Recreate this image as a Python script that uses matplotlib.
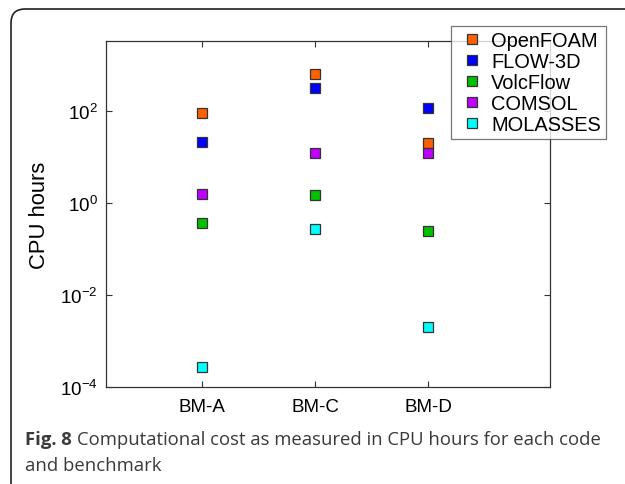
import matplotlib
matplotlib.use("Agg")
import matplotlib.pyplot as plt
from matplotlib.patches import FancyBboxPatch
from matplotlib.transforms import IdentityTransform

benchmarks = ["BM-A", "BM-C", "BM-D"]
codes = ["OpenFOAM", "FLOW-3D", "VolcFlow", "COMSOL", "MOLASSES"]
colors = ["#FF6000", "#0000FF", "#00C000", "#BF00FF", "#00FFFF"]
openfoam = [90, 630, 19.5]
flow3d = [20.5, 315, 114]
volcflow = [0.37, 1.5, 0.245]
comsol = [1.55, 12, 11.7]
molasses = [2.75e-4, 0.27, 0.002]
series = [openfoam, flow3d, volcflow, comsol, molasses]
yticks = [1e-4, 1e-2, 1e0, 1e2]
ytick_labels = [r"$\mathregular{10^{-4}}$", r"$\mathregular{10^{-2}}$",
                r"$\mathregular{10^{0}}$", r"$\mathregular{10^{2}}$"]

plt.rcParams['font.family'] = ['Liberation Sans', 'DejaVu Sans']

W, H = 625, 485
fig = plt.figure(figsize=(W / 100, H / 100), dpi=100)

# rounded frame
frame = FancyBboxPatch((11, -40), 660, H - 10 + 40, boxstyle="round,pad=0,rounding_size=14",
                       transform=IdentityTransform(), fill=False, edgecolor="#222222",
                       linewidth=1.2, zorder=0)
fig.patches.append(frame)

ax = fig.add_axes([106 / W, 1 - 388 / H, (550 - 106) / W, (388 - 42) / H])
x = [1, 2, 3]
for name, col, vals in zip(codes, colors, series):
    ax.plot(x, vals, linestyle="none", marker="s", markersize=7.2,
            markerfacecolor=col, markeredgecolor="#333333", markeredgewidth=0.9,
            label=name, zorder=3)

ax.set_yscale("log")
ax.set_ylim(1e-4, 10 ** 3.51)
ax.set_xlim(0.15, 4.08)
ax.set_xticks(x)
ax.set_xticklabels(benchmarks, fontsize=13.5)
ax.set_yticks(yticks)
ax.set_yticklabels(ytick_labels, fontsize=13.6)
ax.yaxis.set_minor_locator(matplotlib.ticker.NullLocator())
ax.tick_params(direction="in", length=4, width=0.8, top=True, right=True, color="#333333")
ax.tick_params(axis="x", pad=8)
ax.tick_params(axis="y", pad=6)
for s in ax.spines.values():
    s.set_color("#333333")
    s.set_linewidth(0.9)
ax.set_ylabel("CPU hours", fontsize=15.8, labelpad=7)

leg = fig.legend(loc="upper left", bbox_to_anchor=(451 / W, 1 - 27 / H),
                 bbox_transform=fig.transFigure, fontsize=14.4, frameon=True,
                 fancybox=False, edgecolor="#555555", borderaxespad=0,
                 borderpad=0.25, labelspacing=0.1, handlelength=1.6,
                 handletextpad=0.15, numpoints=1)
leg.get_frame().set_linewidth(0.9)
for h in leg.legend_handles:
    h.set_markersize(6.5)

cap_color = "#3a3a3a"
cap_fs = 13.3
t1 = fig.text(25 / W, 1 - 440 / H, "Fig. 8", fontsize=cap_fs, fontweight="bold",
              family="Open Sans", color=cap_color, va="center", ha="left")
fig.canvas.draw()
r = fig.canvas.get_renderer()
bb = t1.get_window_extent(r)
fig.text((bb.x1 + 5) / W, 1 - 440 / H,
         "Computational cost as measured in CPU hours for each code",
         fontsize=cap_fs, family="Open Sans", color=cap_color, va="center", ha="left")
fig.text(25 / W, 1 - 466 / H, "and benchmark", fontsize=cap_fs, family="Open Sans",
         color=cap_color, va="center", ha="left")

fig.savefig("out.png", dpi=100)
